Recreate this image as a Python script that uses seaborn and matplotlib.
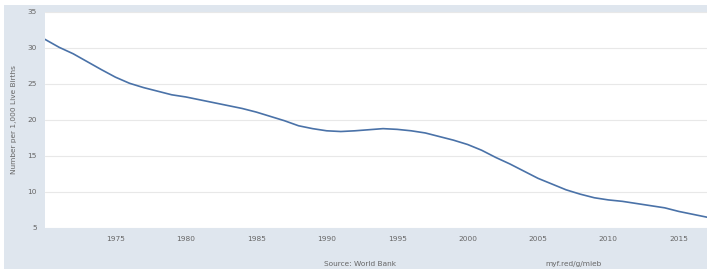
import numpy as np
import pandas as pd

import matplotlib.pyplot as plt
import seaborn as sns
from matplotlib.patches import Rectangle


# -----------------------------
# DATA
# -----------------------------

years = list(range(1970, 2018))

rate = [
    31.2, 30.1, 29.2, 28.1, 27.0, 25.95, 25.1, 24.5, 24.0, 23.5,
    23.2, 22.8, 22.4, 22.0, 21.6, 21.1, 20.5, 19.9, 19.2, 18.8,
    18.5, 18.4, 18.5, 18.65, 18.8, 18.7, 18.5, 18.2, 17.7, 17.2,
    16.6, 15.8, 14.8, 13.9, 12.9, 11.9, 11.1, 10.3, 9.7, 9.2,
    8.9, 8.7, 8.4, 8.1, 7.8, 7.3, 6.9, 6.5,
]

y_ticks = [5, 10, 15, 20, 25, 30, 35]
x_ticks = [1975, 1980, 1985, 1990, 1995, 2000, 2005, 2010, 2015]

df = pd.DataFrame({"Year": years, "Rate": rate})


# -----------------------------
# STYLE
# -----------------------------

sns.set_style("white")
plt.rcParams["font.family"] = ["DejaVu Sans"]

panel_color = "#dfe6ee"
text_color = "#666666"
line_color = "#4a72a8"
fs = 5.3


# -----------------------------
# PLOT
# -----------------------------

fig = plt.figure(figsize=(7.07, 2.69), dpi=100)
fig.patch.set_facecolor("white")

# blue-gray panel behind the plot
fig.patches.append(Rectangle((4 / 707, 0), 1, 1 - 5 / 269,
                             transform=fig.transFigure,
                             facecolor=panel_color, edgecolor="none",
                             zorder=-10))

ax = fig.add_axes([45 / 707, 41 / 269, 662 / 707, 216 / 269])
ax.set_zorder(5)
ax.set_facecolor("white")

sns.lineplot(data=df, x="Year", y="Rate", ax=ax,
             color=line_color, linewidth=1.2)

ax.set_xlim(1970, 2017)
ax.set_ylim(5, 35)
ax.set_yticks(y_ticks)
ax.set_xticks(x_ticks)
ax.grid(axis="y", color="#e8e8e8", linewidth=0.8)
ax.set_axisbelow(True)

for s in ax.spines.values():
    s.set_visible(False)

ax.tick_params(length=0, labelsize=fs, colors=text_color, pad=6)
ax.set_xlabel("")
ax.set_ylabel("Number per 1,000 Live Births", fontsize=fs,
              color=text_color, labelpad=7)

fig.text(360 / 707, 5 / 269, "Source: World Bank", ha="center",
         va="center", fontsize=fs, color=text_color, zorder=10)
fig.text(573 / 707, 5 / 269, "myf.red/g/mieb", ha="center",
         va="center", fontsize=fs, color=text_color, zorder=10)

fig.savefig("out.png", dpi=100, facecolor=fig.get_facecolor())
